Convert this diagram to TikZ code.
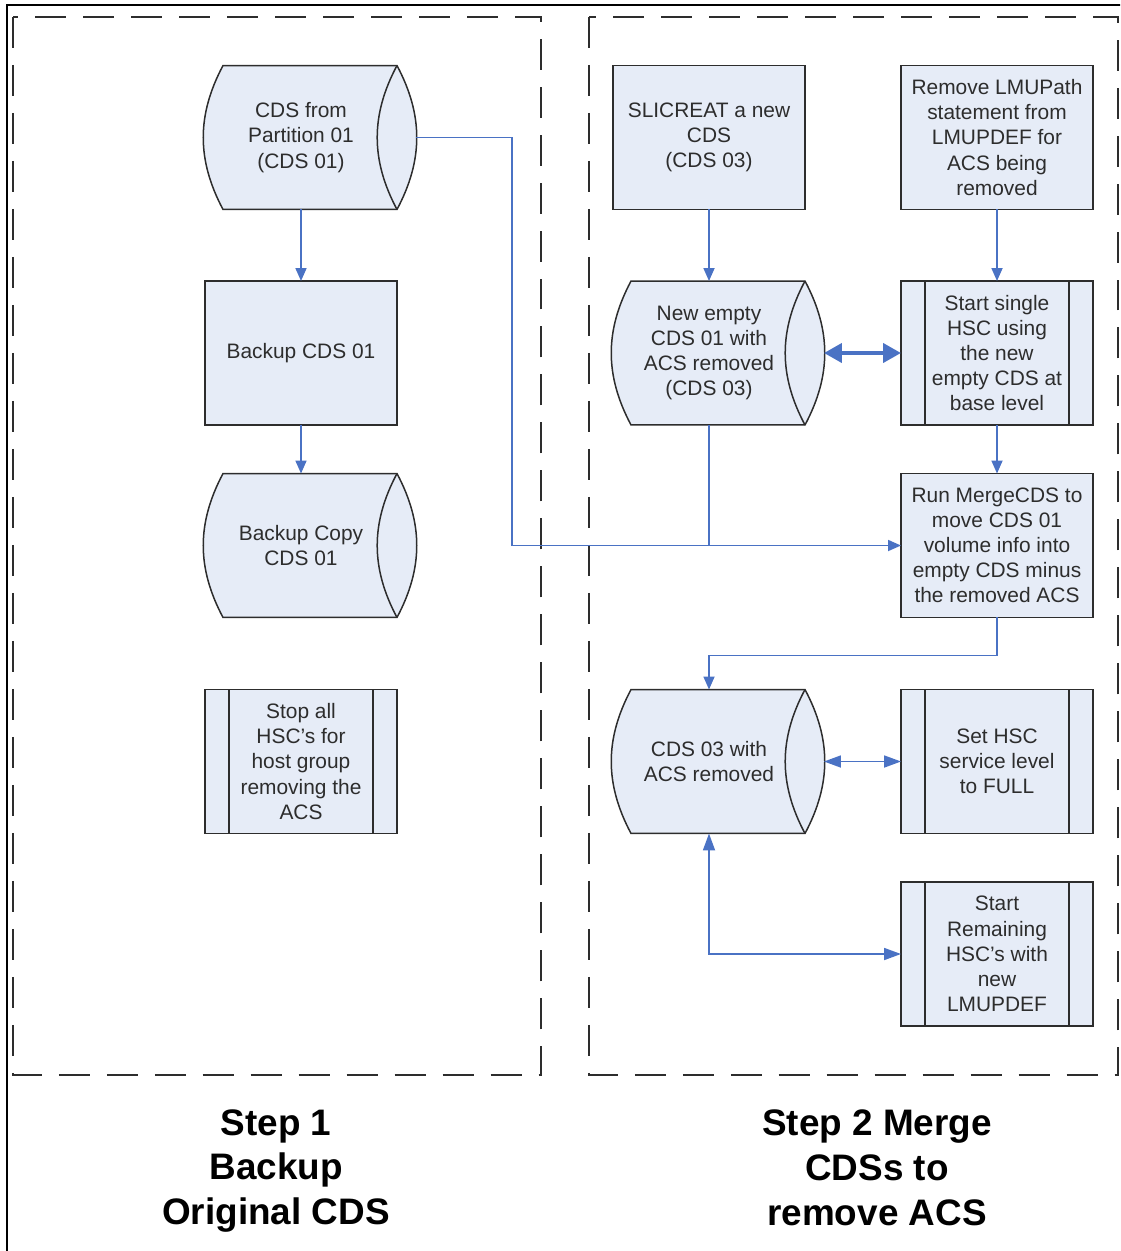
\documentclass[tikz,border=0pt]{standalone}
\usepackage{fontspec}
\setmainfont{Liberation Sans}
\usetikzlibrary{arrows.meta,backgrounds}

\definecolor{boxfill}{RGB}{230,236,247}
\definecolor{flowblue}{RGB}{74,114,196}
\definecolor{edgegray}{RGB}{45,45,45}

% storage shape drawn round a (borderless) node
\newcommand\diskshape[1]{%
  \filldraw[outline] ([xshift=0.36cm]#1.north west) -- (#1.north east)
    to[bend left=28] (#1.south east) -- ([xshift=0.36cm]#1.south west)
    to[bend left=28] ([xshift=0.36cm]#1.north west) -- cycle;
  \draw[outline, fill=none] (#1.north east) to[bend right=28] (#1.south east);}

\begin{document}
\begin{tikzpicture}[x=0.02cm, y=-0.02cm,
    outline/.style={draw=edgegray, line width=0.03cm, fill=boxfill},
    item/.style={minimum width=3.84cm, minimum height=2.88cm, inner sep=0pt,
      outer sep=0pt, align=center, text=edgegray,
      font=\fontsize{11.9}{14.3}\selectfont},
    box/.style={item, outline},
    disk/.style={item},
    subproc/.style={box, path picture={
      \draw[edgegray, line width=0.03cm]
        ([xshift=0.48cm]path picture bounding box.north west) --
        ([xshift=0.48cm]path picture bounding box.south west)
        ([xshift=-0.48cm]path picture bounding box.north east) --
        ([xshift=-0.48cm]path picture bounding box.south east);}},
    wire/.style={draw=flowblue, line width=0.035cm},
    flow/.style={wire, -{Triangle[length=0.26cm,width=0.22cm]}},
    both/.style={wire, {Triangle[length=0.34cm,width=0.24cm]}-{Triangle[length=0.34cm,width=0.24cm]}},
    bigboth/.style={draw=flowblue, line width=0.08cm,
      {Triangle[length=0.36cm,width=0.38cm]}-{Triangle[length=0.36cm,width=0.38cm]}},
    panel/.style={draw=edgegray, line width=0.04cm, dash pattern=on 0.62cm off 0.34cm},
    title/.style={align=center, font=\fontsize{21}{25.5}\selectfont\bfseries}]

    \useasboundingbox (0,0) rectangle (1120,1251);
    \clip (0,0) rectangle (1120,1251);

    % Frame and the two step panels
    \draw[line width=0.045cm] (7,5) rectangle (1150,1280);
    \draw[panel] (13,17) rectangle (541,1075);
    \draw[panel] (589,17) rectangle (1118,1075);

    % Step 1
    \node[disk] (part) at (301,137.5) {CDS from\\Partition 01\\(CDS 01)};
    \node[box] (bak) at (301,353) {Backup CDS 01};
    \node[disk] (copy) at (301,545.5) {Backup Copy\\CDS 01};
    \node[subproc] (stop) at (301,761.5) {Stop all\\HSC’s for\\host group\\removing the\\ACS};

    % Step 2
    \node[box] (slic) at (709,137.5) {SLICREAT a new\\CDS\\(CDS 03)};
    \node[box] (lmu) at (997,137.5) {Remove LMUPath\\statement from\\LMUPDEF for\\ACS being\\removed};
    \node[disk] (newcds) at (709,353) {New empty\\CDS 01 with\\ACS removed\\(CDS 03)};
    \node[subproc] (single) at (997,353) {Start single\\HSC using\\the new\\empty CDS at\\base level};
    \node[box] (merge) at (997,545.5) {Run MergeCDS to\\move CDS 01\\volume info into\\empty CDS minus\\the removed ACS};
    \node[disk] (cds03) at (709,761.5) {CDS 03 with\\ACS removed};
    \node[subproc] (sethsc) at (997,761.5) {Set HSC\\service level\\to FULL};
    \node[subproc] (remain) at (997,954) {Start\\Remaining\\HSC’s with\\new\\LMUPDEF};

    \begin{scope}[on background layer]
      \foreach \d in {part,copy,newcds,cds03} {\diskshape{\d}}
    \end{scope}

    % Connectors
    \draw[flow] (part.south) -- (bak.north);
    \draw[flow] (bak.south) -- (copy.north);
    \draw[flow] ([xshift=0.38cm]part.east) -- ++(96,0) |- (merge.west);
    \draw[flow] (slic.south) -- (newcds.north);
    \draw[flow] (lmu.south) -- (single.north);
    \draw[wire] (newcds.south) -- (newcds.south |- merge.west);
    \draw[bigboth] ([xshift=0.38cm]newcds.east) -- (single.west);
    \draw[flow] (single.south) -- (merge.north);
    \draw[flow] (merge.south) -- ++(0,38) -| (cds03.north);
    \draw[both] ([xshift=0.38cm]cds03.east) -- (sethsc.west);
    \draw[both] (cds03.south) |- (remain.west);

    % Titles
    \node[title] (step1) at (276,1171) {Step 1\\Backup\\Original CDS};
    \node[title] (step2) at (877,1168) {Step 2 Merge\\CDSs to\\remove ACS};
\end{tikzpicture}
\end{document}
